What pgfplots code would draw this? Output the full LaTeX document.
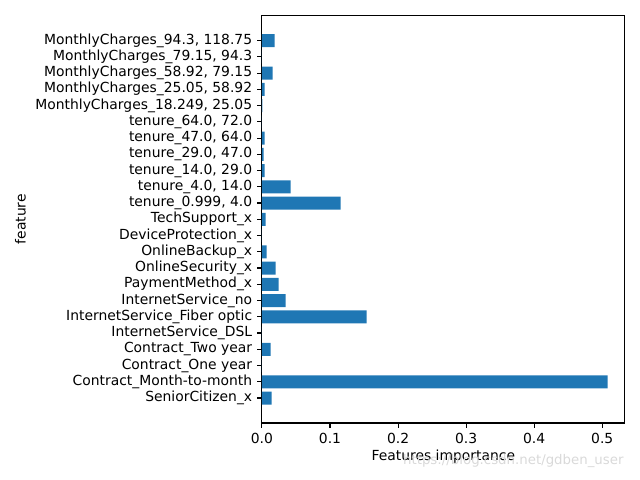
\documentclass[border=0pt]{standalone}
\usepackage{fontspec}
\setmainfont{DejaVu Sans}
\usepackage{pgfplots}
\pgfplotsset{compat=1.18}
\definecolor{mplblue}{HTML}{1F77B4}
\begin{document}
\fontsize{10}{12}\selectfont
\begin{tikzpicture}
\begin{axis}[
  at={(0,0)}, anchor=south west,
  scale only axis, width=261.2pt, height=293.4pt,
  xbar, bar width=0.8,
  xmin=0, xmax=0.533, ymin=-1.54, ymax=23.54,
  xtick={0,0.1,0.2,0.3,0.4,0.5},
  ytick={0,...,22},
  yticklabels={SeniorCitizen\_x, Contract\_Month-to-month, Contract\_One year, Contract\_Two year, InternetService\_DSL, InternetService\_Fiber optic, InternetService\_no, PaymentMethod\_x, OnlineSecurity\_x, OnlineBackup\_x, DeviceProtection\_x, TechSupport\_x, {tenure\_0.999, 4.0}, {tenure\_4.0, 14.0}, {tenure\_14.0, 29.0}, {tenure\_29.0, 47.0}, {tenure\_47.0, 64.0}, {tenure\_64.0, 72.0}, {MonthlyCharges\_18.249, 25.05}, {MonthlyCharges\_25.05, 58.92}, {MonthlyCharges\_58.92, 79.15}, {MonthlyCharges\_79.15, 94.3}, {MonthlyCharges\_94.3, 118.75}},
  xtick pos=bottom, ytick pos=left,
  tick align=outside, major tick length=3.5pt,
  tick style={black, line width=0.8pt},
  axis line style={line width=0.8pt},
  /pgf/number format/assume math mode=true,
  xticklabel style={/pgf/number format/.cd, fixed, fixed zerofill, precision=1},
  ticklabel style={font=\fontsize{10}{12}\selectfont},
  label style={font=\fontsize{10}{12}\selectfont},
  xlabel={Features importance},
  ylabel={feature},
  xlabel style={yshift=2pt},
]
\addplot[fill=mplblue, draw=none] coordinates {
(0.0143,0) (0.508,1) (0,2) (0.0128,3) (0,4) (0.1539,5) (0.0348,6) (0.0245,7) (0.0201,8) (0.0070,9) (0,10) (0.0055,11) (0.1157,12) (0.0422,13) (0.0040,14) (0.0025,15) (0.0040,16) (0,17) (0.0005,18) (0.0040,19) (0.0157,20) (0,21) (0.0187,22)
};
\end{axis}
\node[text=black!15, font=\fontsize{9.6}{11}\selectfont, inner sep=0pt] at (181pt,-27.4pt) {https://blog.csdn.net/gdben\_user};
\pgfresetboundingbox
\useasboundingbox (-188.6pt,-41.0pt) rectangle (272.2pt,304.6pt);
\end{tikzpicture}
\end{document}
